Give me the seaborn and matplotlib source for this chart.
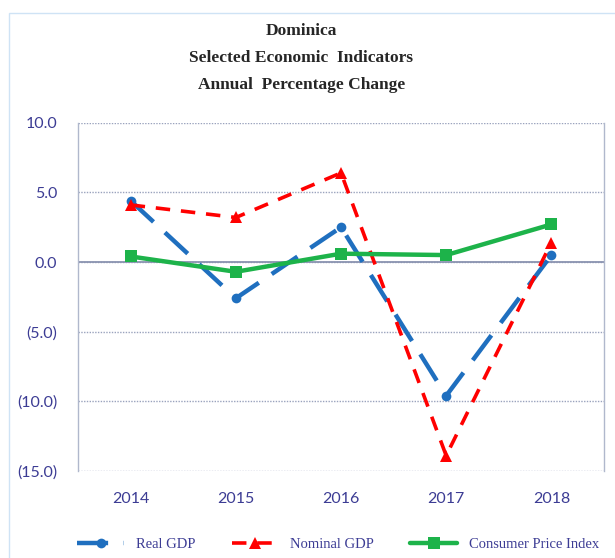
import matplotlib.pyplot as plt
import matplotlib.ticker as mticker
import seaborn as sns
import pandas as pd

years = ["2014", "2015", "2016", "2017", "2018"]
real_gdp = [4.4, -2.6, 2.5, -9.6, 0.5]
nominal_gdp = [4.1, 3.2, 6.4, -13.9, 1.4]
cpi = [0.4, -0.7, 0.6, 0.5, 2.7]

df = pd.DataFrame({"Year": years, "Real GDP": real_gdp,
                   "Nominal GDP": nominal_gdp, "Consumer Price Index": cpi})

sns.set_style("white")
label_color = "#3c3c94"

fig = plt.figure(figsize=(6.15, 5.58), dpi=100)
ax = fig.add_axes([0.127, 0.156, 0.855, 0.624])

sns.lineplot(data=df, x="Year", y="Real GDP", ax=ax, color="#1f6fbf",
             linewidth=3.2, marker="o", markersize=7, markeredgewidth=0,
             label="Real GDP", sort=False)
ax.lines[-1].set_dashes([7, 3.5])
sns.lineplot(data=df, x="Year", y="Nominal GDP", ax=ax, color="#ff0000",
             linewidth=2.6, marker="^", markersize=8, markeredgewidth=0,
             label="Nominal GDP", sort=False)
ax.lines[-1].set_dashes([4, 3])
sns.lineplot(data=df, x="Year", y="Consumer Price Index", ax=ax, color="#1db34a",
             linewidth=3.2, marker="s", markersize=8, markeredgewidth=0,
             label="Consumer Price Index", sort=False)

ax.set_ylim(-15, 10)
ax.set_xlim(-0.5, 4.5)
ax.yaxis.set_major_locator(mticker.MultipleLocator(5))
ax.yaxis.set_major_formatter(mticker.FuncFormatter(
    lambda v, p: f"({abs(v):.1f})" if v < 0 else f"{v:.1f}"))
ax.grid(axis="y", color="#9aa3bd", linestyle=(0, (1, 1)), linewidth=1)
ax.axhline(0, color="#8a93b0", linewidth=1.3, zorder=1)
ax.set_axisbelow(True)
for s in ["top", "bottom"]:
    ax.spines[s].set_visible(False)
for s in ["left", "right"]:
    ax.spines[s].set_color("#b0b8cc")
    ax.spines[s].set_linewidth(1)
ax.set_xlabel("")
ax.set_ylabel("")
ax.tick_params(axis="both", length=0, labelsize=11.5, labelcolor=label_color)
ax.tick_params(axis="x", pad=15)
ax.tick_params(axis="y", pad=15)
for t in ax.get_xticklabels() + ax.get_yticklabels():
    t.set_family("Lato")

fig.text(0.49, 0.945, "Dominica", ha="center", va="center",
         family="Liberation Serif", weight="bold", fontsize=12.5)
fig.text(0.49, 0.896, "Selected Economic  Indicators", ha="center", va="center",
         family="Liberation Serif", weight="bold", fontsize=12.5)
fig.text(0.49, 0.848, "Annual  Percentage Change", ha="center", va="center",
         family="Liberation Serif", weight="bold", fontsize=12.5)

handles, labels = ax.get_legend_handles_labels()
ax.legend_.remove()
leg = fig.legend(handles, labels, loc="center", bbox_to_anchor=(0.55, 0.025),
                 ncol=3, frameon=False, handlelength=3.2, columnspacing=2.5,
                 prop={"family": "Liberation Serif", "size": 10.5})
for t in leg.get_texts():
    t.set_color(label_color)

fig.patches.append(plt.Rectangle((0.0146, -0.01), 1.2, 0.987, transform=fig.transFigure,
                                 fill=False, edgecolor="#cfe3f5", linewidth=1))
fig.savefig("out.png", dpi=100)
